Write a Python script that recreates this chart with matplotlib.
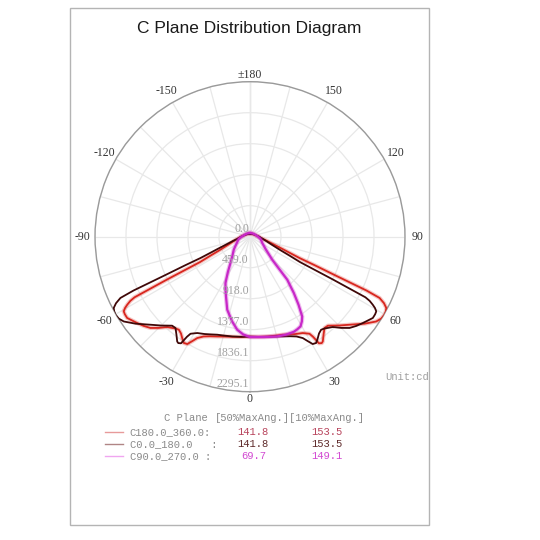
import numpy as np
import matplotlib
matplotlib.use("Agg")
import matplotlib.pyplot as plt
from matplotlib.patches import Rectangle
from matplotlib.lines import Line2D

# ---------------- data (gamma angle in degrees, intensity in cd) ----------------
# outer profile (left half of C0-180 curve, right half of C180-360 curve)
gamma_outer = [0, 5, 10, 15, 18.5, 22, 25, 28.7, 31.5, 32.2, 32.9, 34, 34.8, 36.9,
               39.2, 41.2, 45, 48.5, 52.8, 56.1, 58, 59.9, 61.2, 62.4, 63.6, 64.7,
               65.2, 65.6, 66.2, 66.7, 68, 69.5, 73, 76, 80, 85, 90, 100, 120, 150, 180]
cd_outer = [1480, 1488, 1500, 1515, 1530, 1560, 1590, 1626, 1685, 1750, 1880, 1900,
            1889, 1814, 1745, 1751, 1860, 1967, 2130, 2251, 2290, 2303, 2295, 2277,
            2215, 2122, 1900, 1400, 1050, 800, 620, 498, 330, 260, 195, 155, 130,
            95, 65, 48, 42]

# inner profile (right half of C0-180 curve, left half of C180-360 curve)
gamma_inner = [0, 5, 10, 15, 18.2, 22, 25, 27.5, 29, 30.3, 31.9, 33.8, 35.5, 37.4,
               39, 42.5, 45, 47.5, 50, 52.6, 56.5, 58.2, 59.4, 60.3, 61, 61.8, 62.3,
               62.7, 63.1, 64.5, 66, 70, 75, 80, 85, 90, 100, 120, 150, 180]
cd_inner = [1480, 1490, 1505, 1530, 1555, 1590, 1630, 1692, 1770, 1841, 1854, 1805,
            1760, 1734, 1750, 1814, 1910, 2000, 2055, 2104, 2181, 2180, 2172, 2130,
            2079, 2010, 1930, 1380, 830, 640, 500, 340, 250, 195, 160, 139, 100, 68,
            50, 42]

# C90 (right) and C270 (left) half planes
gamma_c90 = [0, 8, 15, 20, 24.8, 27, 29.4, 31.5, 33.2, 35.5, 37.9, 40.9, 42.5, 44,
             52, 62.7, 70, 77.6, 90, 120, 150, 180]
cd_c90 = [1486, 1500, 1530, 1545, 1550, 1540, 1524, 1470, 1411, 1237, 1056, 842,
          596, 474, 290, 205, 180, 159, 120, 75, 60, 55]
gamma_c270 = [0, 4, 7.8, 12, 17.3, 22, 24.8, 27.9, 32, 36.6, 43, 51.3, 60, 70,
              78.4, 90, 120, 150, 180]
cd_c270 = [1486, 1450, 1391, 1280, 1133, 950, 865, 776, 620, 485, 380, 308, 240,
           195, 169, 125, 75, 60, 55]

r_max = 2295.1
ring_values = [459.02, 918.04, 1377.06, 1836.08, 2295.1]
ring_labels = ["0.0", "459.0", "918.0", "1377.0", "1836.1", "2295.1"]
angle_ticks = [0, 30, 60, 90, 120, 150, 180, -150, -120, -90, -60, -30]

legend_names = ["C180.0_360.0:", "C0.0_180.0   :", "C90.0_270.0 :"]
beam50 = ["141.8", "141.8", "69.7"]
beam10 = ["153.5", "153.5", "149.1"]

# ---------------- styling ----------------
W = H = 540.0
def fx(x):
    return x / W
def fy(y):
    return 1 - y / H

col_dark = "#3f0808"
col_red = "#d8261e"
col_mag = "#c828c8"
leg_line_cols = ["#e79a9a", "#b08585", "#f0a6f0"]
val_cols = ["#b8445c", "#5e2a2a", "#d24ad2"]
serif = "Liberation Serif"
mono = "Liberation Mono"
fs_leg = 7.6

fig = plt.figure(figsize=(5.4, 5.4), dpi=100)
fig.patch.set_facecolor("white")

cx, cy, R = 250.0, 236.7, 155.0
ax = fig.add_axes([fx(cx - R), fy(cy + R), 2 * R / W, 2 * R / H], projection="polar")
ax.set_theta_zero_location("S")
ax.set_theta_direction(1)
ax.set_ylim(0, r_max)
ax.set_thetagrids(np.arange(0, 360, 15), labels=[])
ax.set_rgrids(ring_values, labels=[])
ax.grid(True, color="#e8e8e8", lw=0.9)
ax.spines["polar"].set_color("#9a9a9a")
ax.spines["polar"].set_linewidth(1.0)
ax.tick_params(length=0)
# slightly darker vertical axis lines
for a in (0, 180):
    ax.plot([np.deg2rad(a)] * 2, [0, r_max], color="#d2d2d2", lw=0.9, zorder=1)

def full_curve(g_left, c_left, g_right, c_right):
    gl = np.array(g_left, float)
    gr = np.array(g_right, float)
    th = np.concatenate([-gl[::-1], gr[1:]])
    rr = np.concatenate([np.array(c_left, float)[::-1], np.array(c_right, float)[1:]])
    return np.deg2rad(th), rr

th_d, r_d = full_curve(gamma_outer, cd_outer, gamma_inner, cd_inner)
th_r, r_r = full_curve(gamma_inner, cd_inner, gamma_outer, cd_outer)
th_m, r_m = full_curve(gamma_c270, cd_c270, gamma_c90, cd_c90)

ax.plot(th_r, r_r, color=col_red, lw=3.0, alpha=0.25, zorder=3)
ax.plot(th_r, r_r, color=col_red, lw=1.3, zorder=4)
ax.plot(th_d, r_d, color=col_dark, lw=1.3, zorder=5)
ax.plot(th_m, r_m, color=col_mag, lw=3.2, alpha=0.3, zorder=6)
ax.plot(th_m, r_m, color=col_mag, lw=1.6, zorder=7)

# angle labels
for a in angle_ticks:
    txt = "\u00b1180" if a == 180 else str(a)
    dist = 162.0 if a in (0, 180) else 168.0
    ax.text(np.deg2rad(a), r_max * dist / R, txt, ha="center", va="center",
            fontsize=8.5, family=serif, color="#333333", clip_on=False)

# radial labels
for rv, lab in zip([0.0] + ring_values, ring_labels):
    ax.annotate(lab, xy=(0, rv), xytext=(-0.8, 5.4), textcoords="offset points",
                ha="right", va="center", fontsize=8.5, family=serif,
                color="#a0a0a0", zorder=8)

# title
fig.text(fx(249.5), fy(28.5), "C Plane Distribution Diagram", ha="center",
         va="center", fontsize=12.5, family="Liberation Sans", color="#1a1a1a")

# unit
fig.text(fx(385), fy(377), "Unit:cd", ha="left", va="center", fontsize=fs_leg,
         family=mono, color="#a0a0a0")

# legend table
fig.text(fx(207.5), fy(418), "C Plane", ha="right", va="center", fontsize=fs_leg,
         family=mono, color="#8a8a8a")
fig.text(fx(289.5), fy(418), "[50%MaxAng.][10%MaxAng.]", ha="center", va="center",
         fontsize=fs_leg, family=mono, color="#8a8a8a")
row_y = [432, 444, 456]
for i in range(3):
    y = row_y[i]
    fig.add_artist(Line2D([fx(105), fx(123)], [fy(y), fy(y)], color=leg_line_cols[i],
                          lw=1.0, transform=fig.transFigure))
    fig.text(fx(129.5), fy(y), legend_names[i], ha="left", va="center", fontsize=fs_leg,
             family=mono, color="#8a8a8a")
    fig.text(fx(253.3), fy(y), beam50[i], ha="center", va="center", fontsize=fs_leg,
             family=mono, color=val_cols[i])
    fig.text(fx(327.3), fy(y), beam10[i], ha="center", va="center", fontsize=fs_leg,
             family=mono, color=val_cols[i])

# border frame
fig.add_artist(Rectangle((fx(69.5), fy(525)), (429.5 - 69.5) / W, (525 - 7.5) / H,
                         transform=fig.transFigure, fill=False, ec="#b4b4b4", lw=1.0))

fig.savefig("out.png", dpi=100, facecolor="white")
